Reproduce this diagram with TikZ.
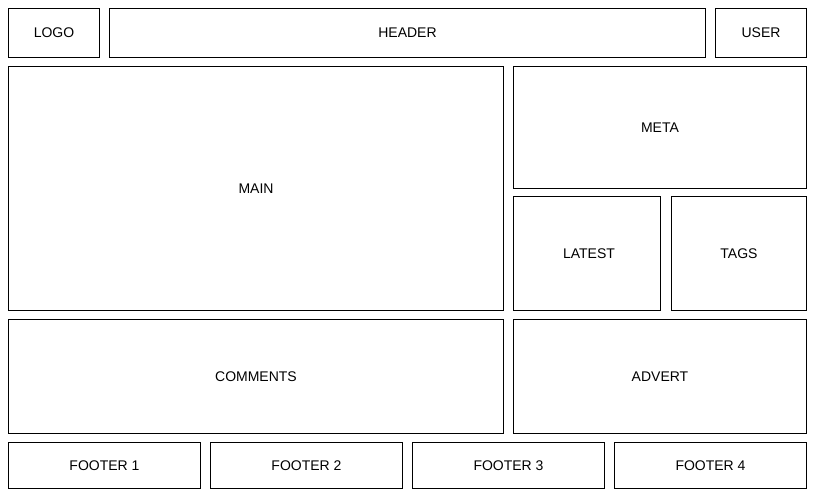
\documentclass[tikz,border=0pt]{standalone}
\usepackage{fontspec}
\setmainfont{Liberation Sans}
\begin{document}
\begin{tikzpicture}[x=1pt,y=-1pt,
  panel/.style={draw=black,line width=1pt,fill=white},
  lbl/.style={font=\fontsize{14}{16}\selectfont,inner sep=0pt}]
\useasboundingbox (0,0) rectangle (815,497);
\draw[panel] (8.5,8.5) rectangle (99.5,57.5);
\node[lbl] (logo) at (54,32.5) {LOGO};
\draw[panel] (109.5,8.5) rectangle (705.5,57.5);
\node[lbl] (header) at (407.5,32.5) {HEADER};
\draw[panel] (715.5,8.5) rectangle (806.5,57.5);
\node[lbl] (user) at (761,32.5) {USER};
\draw[panel] (8.5,66.5) rectangle (503.5,310.5);
\node[lbl] (main) at (256,188.5) {MAIN};
\draw[panel] (513.5,66.5) rectangle (806.5,188.5);
\node[lbl] (meta) at (660,127.5) {META};
\draw[panel] (513.5,196.5) rectangle (660.5,310.5);
\node[lbl] (latest) at (589,253.5) {LATEST};
\draw[panel] (671.5,196.5) rectangle (806.5,310.5);
\node[lbl] (tags) at (739,253.5) {TAGS};
\draw[panel] (8.5,319.5) rectangle (503.5,433.5);
\node[lbl] (comments) at (256,376.5) {COMMENTS};
\draw[panel] (513.5,319.5) rectangle (806.5,433.5);
\node[lbl] (advert) at (660,376.5) {ADVERT};
\draw[panel] (8.5,442.5) rectangle (200.5,488.5);
\node[lbl] (f1) at (104.5,465.5) {FOOTER 1};
\draw[panel] (210.5,442.5) rectangle (402.5,488.5);
\node[lbl] (f2) at (306.5,465.5) {FOOTER 2};
\draw[panel] (412.5,442.5) rectangle (604.5,488.5);
\node[lbl] (f3) at (508.5,465.5) {FOOTER 3};
\draw[panel] (614.5,442.5) rectangle (806.5,488.5);
\node[lbl] (f4) at (710.5,465.5) {FOOTER 4};
\end{tikzpicture}
\end{document}
